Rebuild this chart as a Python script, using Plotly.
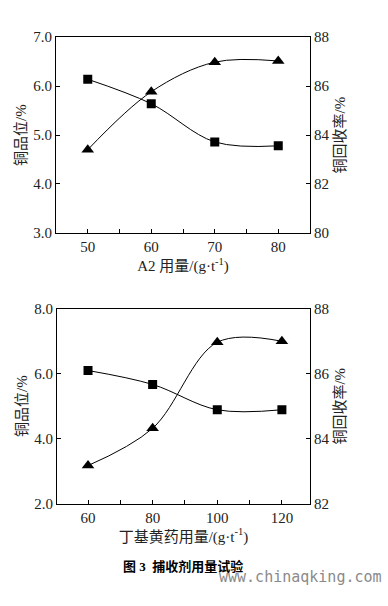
import plotly.graph_objects as go

# Top panel: A2 dosage
a2_dose = [50, 60, 70, 80]
a2_grade = [6.14, 5.64, 4.86, 4.78]
a2_recovery = [83.4, 85.77, 86.98, 87.03]

# Bottom panel: butyl xanthate dosage
bx_dose = [60, 80, 100, 120]
bx_grade = [6.1, 5.67, 4.89, 4.89]
bx_recovery = [83.17, 84.32, 86.97, 87.0]

title_top_x = "A2 用量/(g·t<sup>-1</sup>)"
title_bot_x = "丁基黄药用量/(g·t<sup>-1</sup>)"
title_left = "铜品位/%"
title_right = "铜回收率/%"
caption = "<b>图 3  捕收剂用量试验</b>"
watermark = "www.chinaqking.com"

FONT = "'Liberation Serif', 'Noto Sans CJK SC', serif"
line = dict(color="black", width=1, shape="spline", smoothing=1.0)
sq = dict(symbol="square", size=9, color="black")
tri = dict(symbol="triangle-up", size=11, color="black")

fig = go.Figure()
fig.add_trace(go.Scatter(x=a2_dose, y=a2_grade, mode="lines+markers", line=line, marker=sq, xaxis="x", yaxis="y"))
fig.add_trace(go.Scatter(x=a2_dose, y=a2_recovery, mode="lines+markers", line=line, marker=tri, xaxis="x", yaxis="y2"))
fig.add_trace(go.Scatter(x=bx_dose, y=bx_grade, mode="lines+markers", line=line, marker=sq, xaxis="x2", yaxis="y3"))
fig.add_trace(go.Scatter(x=bx_dose, y=bx_recovery, mode="lines+markers", line=line, marker=tri, xaxis="x2", yaxis="y4"))

ax_common = dict(showline=True, linecolor="black", linewidth=1, showgrid=False, zeroline=False,
                 ticks="inside", ticklen=4, tickcolor="black",
                 tickfont=dict(family=FONT, size=15, color="#222"))
tf = dict(family=FONT, size=15, color="#222")

W, H = 388, 606
top_y = [1 - 231 / H, 1 - 30 / H]
bot_y = [1 - 509 / H, 1 - 309 / H]
top_x = [56 / W, 310 / W]
bot_x = [57 / W, 310 / W]

fig.update_layout(
    width=W, height=H, showlegend=False,
    margin=dict(l=0, r=0, t=0, b=0),
    paper_bgcolor="white", plot_bgcolor="white",
    xaxis=dict(**ax_common, domain=top_x, anchor="y", range=[45, 85], tickvals=[50, 60, 70, 80],
               minor=dict(tickvals=[55, 65, 75], ticks="inside", ticklen=4, tickcolor="black"),
               mirror=True, title=dict(text=title_top_x, font=tf, standoff=6)),
    yaxis=dict(**ax_common, domain=top_y, anchor="x", range=[3, 7], tickvals=[3, 4, 5, 6, 7],
               tickformat=".1f", title=dict(text=title_left, font=tf, standoff=2)),
    yaxis2=dict(**ax_common, overlaying="y", side="right", anchor="x", range=[80, 88],
                tickvals=[80, 82, 84, 86, 88], title=dict(text=title_right, font=tf, standoff=6)),
    xaxis2=dict(**ax_common, domain=bot_x, anchor="y3", range=[50.4, 128.7], tickvals=[60, 80, 100, 120],
                minor=dict(tickvals=[70, 90, 110], ticks="inside", ticklen=4, tickcolor="black"),
                mirror=True, title=dict(text=title_bot_x, font=tf, standoff=6)),
    yaxis3=dict(**ax_common, domain=bot_y, anchor="x2", range=[2, 8], tickvals=[2, 4, 6, 8],
                tickformat=".1f", title=dict(text=title_left, font=tf, standoff=2)),
    yaxis4=dict(**ax_common, overlaying="y3", side="right", anchor="x2", range=[82, 88],
                tickvals=[82, 84, 86, 88], title=dict(text=title_right, font=tf, standoff=6)),
    annotations=[
        dict(text=caption, x=183 / W, y=1 - 583 / H, xref="paper", yref="paper",
             showarrow=False, font=dict(family=FONT, size=13, color="black")),
        dict(text=watermark, x=384 / W, y=1 - 596 / H, xref="paper", yref="paper", xanchor="right",
             showarrow=False, font=dict(family="'DejaVu Sans Mono', monospace", size=15, color="#8a8a8a")),
    ],
)

fig.write_html("out.html", config={"displayModeBar": False},
               post_script="document.body.style.margin='0';document.body.style.overflow='hidden';")
